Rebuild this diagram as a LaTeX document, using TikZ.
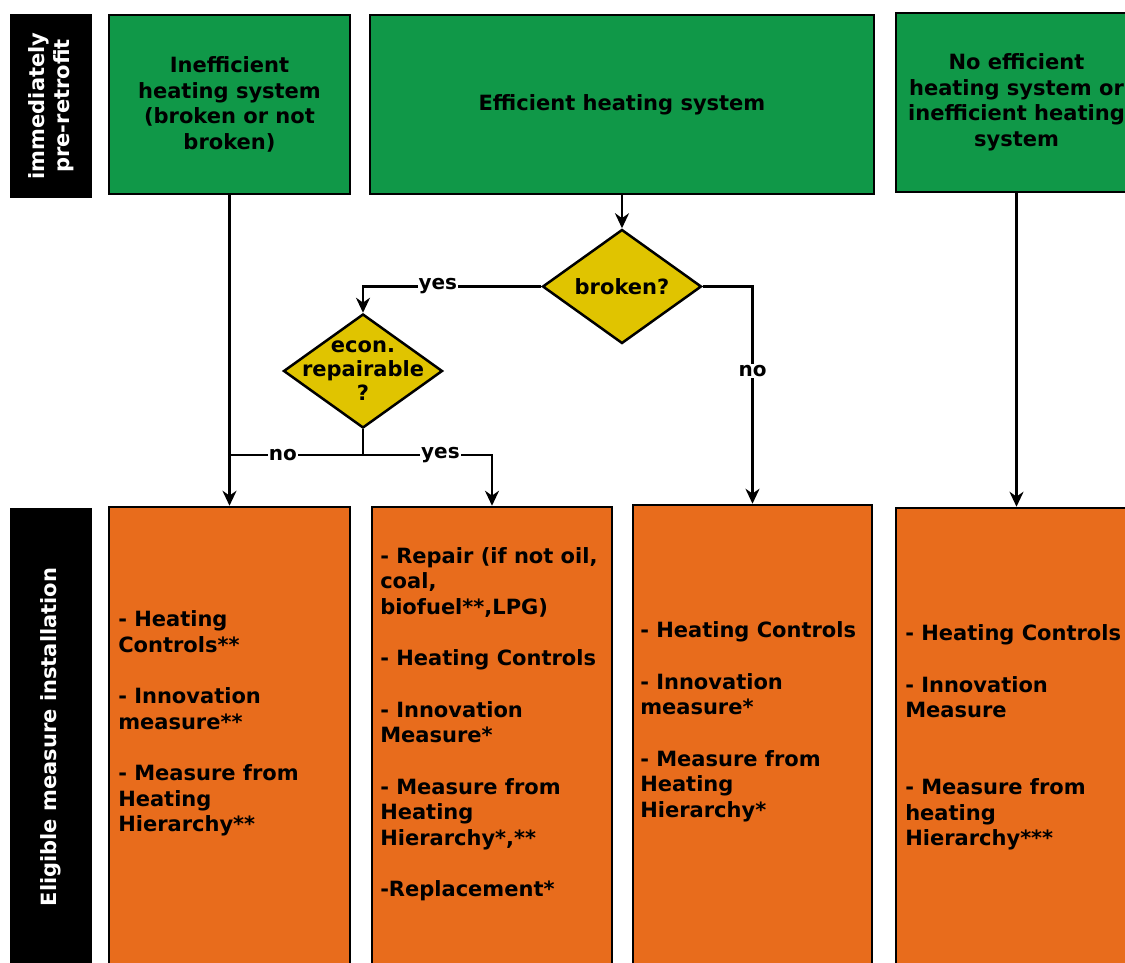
\documentclass[tikz,border=0pt]{standalone}
\usepackage{fontspec}
\setmainfont{DejaVu Sans}
\usetikzlibrary{shapes.geometric}
\usetikzlibrary{arrows.meta}
\usetikzlibrary{positioning}
\definecolor{stagegreen}{RGB}{16,152,72}
\definecolor{measureorange}{RGB}{232,108,28}
\definecolor{askyellow}{RGB}{224,196,0}
\def\gap{\\[26pt]}

\begin{document}
\begin{tikzpicture}[x=1pt,y=-1pt,>={Stealth[length=15pt,width=14pt]},line width=2.5pt,
		every node/.style={font=\bfseries\fontsize{21}{25.5}\selectfont},
		phase/.style={fill=black,text=white,rotate=90,align=center,inner sep=0pt},
		stage/.style={draw,fill=stagegreen,align=center,minimum height=179},
		measure/.style={draw,fill=measureorange,minimum height=483},
		items/.style={align=left,anchor=west,inner sep=0pt},
		ask/.style={diamond,draw,fill=askyellow,minimum width=159,minimum height=114,inner sep=0pt},
		lbl/.style={fill=white,inner sep=1pt,font=\bfseries\fontsize{20}{24}\selectfont}]
		\clip (0,0) rectangle (1125,963);
		
		% row labels
		\node[phase,minimum width=184,minimum height=82] (pre) at (51,106) {immediately\\pre-retrofit};
		\node[phase,minimum width=458,minimum height=82] (elig) at (51,737) {Eligible measure installation};
		
		% situation before retrofit
		\node[stage,minimum width=241] (g1) at (229.5,104.5) {Inefficient\\heating system\\(broken or not\\broken)};
		\node[stage,minimum width=504] (g2) at (622,104.5) {Efficient heating system};
		\node[stage,minimum width=241] (g3) at (1016.5,102.5) {No efficient\\heating system or\\inefficient heating\\system};
		
		% questions
		\node[ask,below=33pt of g2,label=center:{broken?}] (b) {};
		\node[ask,label={[align=center,font=\bfseries\fontsize{21}{24}\selectfont]center:econ.\\repairable\\?}] (e) at (363,371) {};
		
		% eligible measures
		\node[measure,minimum width=241] (o1) at (229.5,748.5) {};
		\node[measure,minimum width=240] (o2) at (492,748.5) {};
		\node[measure,minimum width=239,minimum height=485] (o3) at (752.5,747.5) {};
		\node[measure,minimum width=241] (o4) at (1016.5,749.5) {};
		
		\node[items] (t1) at (117,723.5) {- Heating\\Controls**\gap - Innovation\\measure**\gap - Measure from\\Heating\\Hierarchy**};
		\node[items] (t2) at (379,724) {- Repair (if not oil,\\coal,\\biofuel**,LPG)\gap - Heating Controls\gap - Innovation\\Measure*\gap - Measure from\\Heating\\Hierarchy*,**\gap -Replacement*};
		\node[items] (t3) at (639,722) {- Heating Controls\gap - Innovation\\measure*\gap - Measure from\\Heating\\Hierarchy*};
		\node[items] (t4) at (904,737.5) {- Heating Controls\gap - Innovation\\Measure\\[51.5pt] - Measure from\\heating\\Hierarchy***};
		
		% connectors
		\coordinate (j) at (363,455);
		\draw[->] (g1.south) -- (o1.north);
		\draw[->] (g2.south) -- (b.north);
		\draw[->] (b.west) -| node[lbl,pos=0.29] {yes} (e.north);
		\draw[->] (b.east) -| node[lbl,pos=0.695] {no} (o3.north);
		\draw (e.south) -- (j);
		\draw (j) -- node[lbl,pos=0.6] {no} (g1 |- j);
		\draw[->] (j) -| node[lbl,pos=0.3] {yes} (o2.north);
		\draw[->] (g3.south) -- (o4.north);
\end{tikzpicture}
\end{document}
